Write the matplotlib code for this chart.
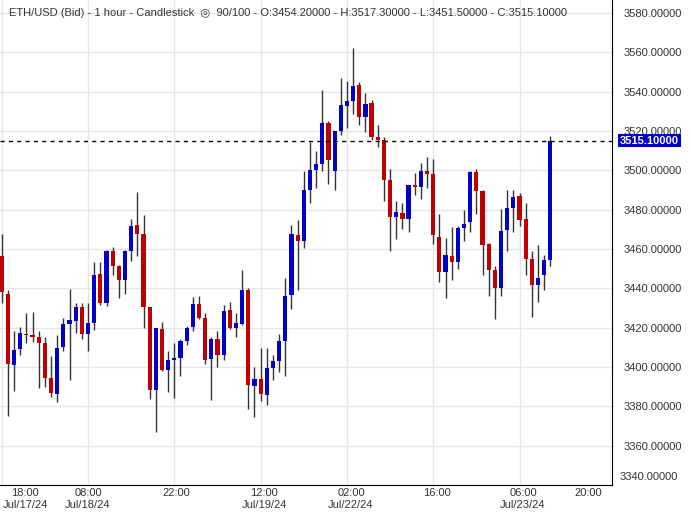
import matplotlib.pyplot as plt
import numpy as np

plt.rcParams['font.family'] = ['Liberation Sans', 'DejaVu Sans']

# hourly candles, ETH/USD (Bid)
opens = [3456.5, 3437, 3401, 3409, 3417, 3416.2, 3415.2, 3412.3, 3394.3, 3386.2,
         3410.3, 3422, 3423.6, 3430.6, 3417, 3422.5, 3447.2, 3432.6, 3458.8, 3451.3,
         3444.2, 3458.8, 3472.4, 3467.4, 3430.6, 3388.3, 3419.4, 3398.5, 3403.8, 3404.4,
         3413.4, 3420.5, 3432, 3425, 3404, 3414, 3406, 3429, 3420, 3422,
         3439, 3390.3, 3393.8, 3385.7, 3399.4, 3403, 3413, 3436.8, 3467, 3464.3,
         3490, 3500, 3503, 3524.2, 3499.6, 3519.8, 3532.8, 3535.3, 3543.4, 3527.3,
         3534.3, 3516.7, 3515.6, 3495, 3476.4, 3478.4, 3475, 3492.5, 3491.5, 3499.6,
         3498, 3466.3, 3448.3, 3456.2, 3453.4, 3470.5, 3473.6, 3499.1, 3489.7, 3462.3,
         3449.2, 3440.3, 3469.6, 3481, 3487.1, 3475, 3454.7, 3441.7, 3447, 3454.2]
closes = [3438, 3401.5, 3408.5, 3417.5, 3416.2, 3415.2, 3412, 3394.3, 3386.8, 3409.8,
          3422, 3424, 3430.6, 3417, 3422.5, 3446.7, 3432.6, 3458.8, 3451.3, 3444.2,
          3458.8, 3471.9, 3467.4, 3430.6, 3388.3, 3419.6, 3398.5, 3403.8, 3404.4, 3413.4,
          3420, 3432, 3425, 3403.6, 3414, 3406, 3428.5, 3420, 3422.5, 3439,
          3390.8, 3393.8, 3386.2, 3399.4, 3403, 3413.4, 3436, 3467.4, 3464.3, 3490,
          3500, 3503, 3524.2, 3505.5, 3520.2, 3533.3, 3535.3, 3542.9, 3527.3, 3533.8,
          3516.7, 3515.6, 3495, 3476.4, 3479, 3475, 3492.5, 3491.5, 3499.6, 3498,
          3467, 3448.3, 3456.7, 3453.4, 3470.5, 3472.9, 3499.1, 3489.7, 3462, 3449.4,
          3440.3, 3469.4, 3481, 3486.6, 3474.6, 3454.8, 3441.7, 3445.2, 3454.2, 3515.1]
highs = [3467.5, 3439, 3418.5, 3420.5, 3427.6, 3428, 3418.3, 3415.2, 3405.8, 3416.4,
         3425, 3439.5, 3432.6, 3432.6, 3432.6, 3453.2, 3453.2, 3459.3, 3460.8, 3451.8,
         3459.3, 3475.4, 3489.1, 3477.5, 3430.6, 3420, 3423, 3408, 3412, 3414.4,
         3421, 3435.6, 3436, 3427.6, 3415, 3418.4, 3431.6, 3433, 3427.6, 3449.2,
         3440, 3400, 3409.6, 3409.6, 3406, 3417, 3445.2, 3472.4, 3474.5, 3499.6,
         3514.2, 3509.6, 3540.8, 3525.2, 3520.2, 3546.9, 3545.4, 3562, 3545, 3539.4,
         3535.8, 3523.2, 3516.7, 3500.5, 3484.4, 3483.4, 3492.5, 3498.6, 3503.5, 3506.6,
         3505.6, 3478, 3465.8, 3471.4, 3471.9, 3480, 3499.6, 3500.5, 3490.2, 3462.8,
         3451.3, 3480.5, 3490, 3490, 3488.6, 3483.4, 3459.2, 3461.8, 3456.7, 3517.3]
lows = [3432.5, 3375.3, 3388, 3406, 3412, 3412.5, 3389.3, 3390, 3384.8, 3382.2,
        3408, 3393.5, 3417.5, 3414, 3408.3, 3419, 3431.6, 3431, 3446.7, 3435,
        3437, 3453.7, 3456.2, 3420, 3383.8, 3366.7, 3398, 3387.4, 3384.3, 3395.3,
        3411, 3418.4, 3424.5, 3401.5, 3383.3, 3400, 3403.6, 3419.4, 3415, 3421.5,
        3378.7, 3374.7, 3382.7, 3380.8, 3393.5, 3397.5, 3395.3, 3429.7, 3439, 3460.5,
        3483.6, 3491, 3499.7, 3492.8, 3490, 3518.2, 3521.3, 3528.7, 3522.8, 3519.3,
        3515.2, 3511.7, 3484.4, 3458.9, 3465, 3470, 3468.6, 3487.4, 3485.4, 3491,
        3462.5, 3443.3, 3435.2, 3444.3, 3449.9, 3464, 3468.6, 3477.7, 3446.9, 3436.2,
        3424.3, 3436.2, 3458.9, 3468.6, 3471.6, 3446.9, 3425.3, 3433.3, 3439.1, 3451.5]

tick_idx = [0, 14, 28, 42, 56, 70, 84]
tick_px = [25, 88, 176, 264, 351, 437, 523, 588]
tick_top = ['18:00', '08:00', '22:00', '12:00', '02:00', '16:00', '06:00', '20:00']
tick_bot = ['Jul/17/24', 'Jul/18/24', '', 'Jul/19/24', 'Jul/22/24', '', 'Jul/23/24', '']
price_ticks = list(range(3340, 3581, 20))
last_price = 3515.1

W, H = 690, 514
fig = plt.figure(figsize=(W / 100, H / 100), dpi=100)
ax = fig.add_axes([0, (H - 485) / H, 612 / W, 485 / H])

x = np.arange(len(opens))
o = np.array(opens); c = np.array(closes)
up = c >= o
colors = np.where(up, '#0000c8', '#c00000')
ax.vlines(x, lows, highs, color='#333333', lw=1, zorder=2)
body = np.maximum(np.abs(c - o), 0.6)
ax.bar(x, body, bottom=np.minimum(o, c), width=0.68, color=colors, zorder=3, linewidth=0)

ax.axhline(last_price, color='black', ls=(0, (3, 3)), lw=1, zorder=4)

ax.set_xlim(-0.28, 99.0)
ax.set_ylim(3342.3, 3586.6)
ax.set_yticks(price_ticks)
ax.set_yticklabels([''] + [f'{v:.5f}' for v in price_ticks[1:]])
ax.set_xticks(tick_idx)
ax.set_xticklabels([])
ax.yaxis.tick_right()
ax.tick_params(axis='y', length=0, pad=8, labelsize=8, labelcolor='#333333')
ax.tick_params(axis='x', length=0)
ax.grid(True, color='#e6e6e6', lw=1, zorder=0)
ax.set_axisbelow(True)
for s in ['top', 'left']:
    ax.spines[s].set_visible(False)

# lowest price label sits clamped above the axis bottom
fig.text(620 / W, 1 - 477 / H, f'{price_ticks[0]:.5f}', ha='left', va='center',
         fontsize=8, color='#333333')

for px, t1, t2 in zip(tick_px, tick_top, tick_bot):
    fig.text(px / W, 1 - 493 / H, t1, ha='center', va='center', fontsize=8, color='#333333')
    if t2:
        fig.text(px / W, 1 - 505 / H, t2, ha='center', va='center', fontsize=8, color='#333333')

ax.text(1.013, last_price, f'{last_price:.5f}', transform=ax.get_yaxis_transform(),
        ha='left', va='center', fontsize=8, color='white', fontweight='bold',
        bbox=dict(boxstyle='square,pad=0.15', fc='#0000c8', ec='none'), zorder=5)

fig.text(9 / W, 1 - 13 / H,
         'ETH/USD (Bid) - 1 hour - Candlestick  \u25ce  90/100 - O:3454.20000 - H:3517.30000 - L:3451.50000 - C:3515.10000',
         ha='left', va='center', fontsize=8, color='#333333')

fig.savefig('out.png', dpi=100)
